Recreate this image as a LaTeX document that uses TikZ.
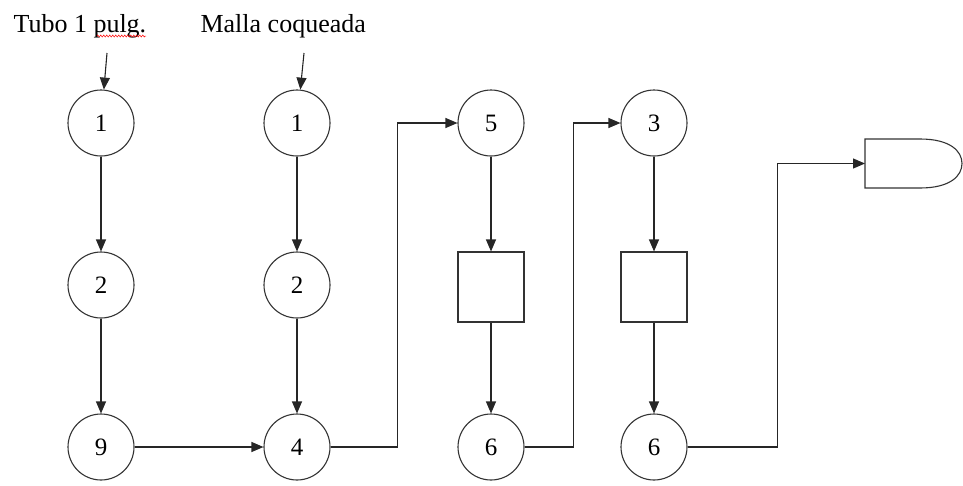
\documentclass[tikz,border=0pt]{standalone}
\usepackage{fontspec}
\setmainfont{Liberation Serif}
\usetikzlibrary{arrows.meta,decorations.pathmorphing}
\begin{document}
\begin{tikzpicture}[x=1pt,y=-1pt, line width=1.1pt,
  stage/.style={circle, draw=black!80, minimum size=66pt, inner sep=0pt, font=\fontsize{25}{25}\selectfont},
  sqbox/.style={rectangle, draw=black!80, minimum width=66pt, minimum height=70pt, inner sep=0pt},
  lbl/.style={anchor=base west, inner sep=0pt, font=\fontsize{26}{26}\selectfont},
  flow/.style={draw=black!85, -{Triangle[length=12pt,width=10pt]}}
]
\useasboundingbox (0,0) rectangle (963,485);
% labels
\node[lbl] (t1) at (13,32) {Tubo 1 pulg.};
\node[lbl] (t2) at (200,32) {Malla coqueada};
\draw[red, line width=0.5pt, decorate, decoration={zigzag, segment length=3pt, amplitude=1pt}] (97,36) -- (146,36);
% column 1
\node[stage] (a1) at (101,123) {1};
\node[stage] (a2) at (101,285) {2};
\node[stage] (a3) at (101,447) {9};
% column 2
\node[stage] (b1) at (297,123) {1};
\node[stage] (b2) at (297,285) {2};
\node[stage] (b3) at (297,447) {4};
% column 3
\node[stage] (c1) at (491,123) {5};
\node[sqbox] (c2) at (491,287) {};
\node[stage] (c3) at (491,447) {6};
% column 4
\node[stage] (d1) at (654,123) {3};
\node[sqbox] (d2) at (654,287) {};
\node[stage] (d3) at (654,447) {6};
% storage (D shape)
\draw[black!80] (865,139) -- (920,139) .. controls (950,139) and (962,151) .. (962,163.5)
      .. controls (962,176) and (950,188) .. (920,188) -- (865,188) -- cycle;
\coordinate (st) at (865,163.5);
% inputs
\coordinate (s1) at (107,53);
\coordinate (s2) at (304,53);
\draw[flow] (s1) -- (a1);
\draw[flow] (s2) -- (b1);
% vertical flows
\draw[flow] (a1) -- (a2);
\draw[flow] (a2) -- (a3);
\draw[flow] (b1) -- (b2);
\draw[flow] (b2) -- (b3);
\draw[flow] (c1) -- (c2);
\draw[flow] (c2) -- (c3);
\draw[flow] (d1) -- (d2);
\draw[flow] (d2) -- (d3);
% horizontal and stepped flows
\draw[flow] (a3) -- (b3);
\draw[flow] (b3.east) -- ++(67,0) |- (c1.west);
\draw[flow] (c3.east) -- ++(49,0) |- (d1.west);
\draw[flow] (d3.east) -- ++(90,0) |- (st);
\end{tikzpicture}
\end{document}
